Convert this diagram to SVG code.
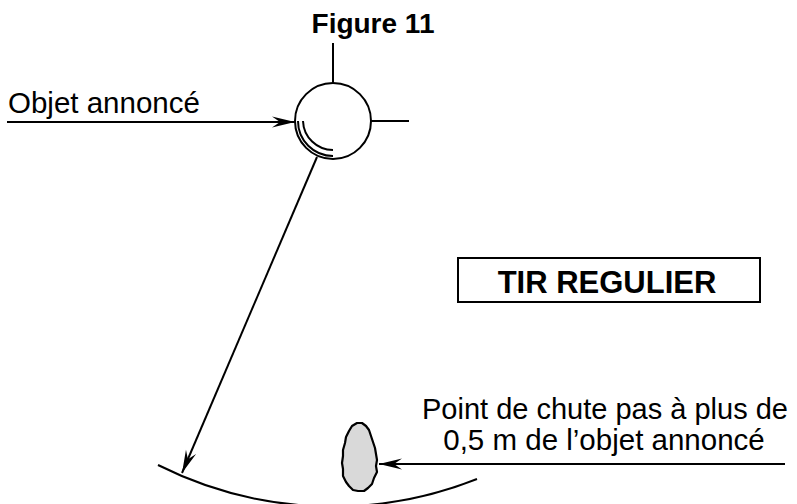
<svg xmlns="http://www.w3.org/2000/svg" width="797" height="504" viewBox="0 0 797 504">
  <style>
    .ln { fill: none; stroke: #000; stroke-width: 2; }
    .t { font-family: "Liberation Sans", Arial, sans-serif; fill: #000; }
    .b { font-weight: bold; }
  </style>
  <defs>
    <marker id="ah" markerUnits="userSpaceOnUse" markerWidth="30" markerHeight="16" viewBox="-24 -8 26 16" refX="0" refY="0" orient="auto">
      <path d="M0,0 L-23,-5.5 L-15,0 L-23,5.5 Z" fill="#000"/>
    </marker>
  </defs>
  <rect width="797" height="504" fill="#fff"/>

  <text class="t b" x="373" y="33" font-size="28" text-anchor="middle">Figure 11</text>

  <g id="objet">
    <circle cx="333" cy="121" r="38" class="ln"/>
    <line x1="333" y1="43" x2="333" y2="83" class="ln"/>
    <line x1="371" y1="121" x2="409" y2="121" class="ln"/>
    <path d="M298,121 A35,35 0 0 0 333,156" class="ln" stroke-width="1.5"/>
    <path d="M303,121 A30,30 0 0 0 333,150" class="ln" stroke-width="1.5"/>
  </g>

  <g id="label-objet">
    <text class="t" x="8" y="113" font-size="29.5">Objet annoncé</text>
  </g>

  <g id="tir">
    <rect x="458" y="258" width="302" height="44" class="ln"/>
    <text class="t b" x="607" y="293" font-size="31" text-anchor="middle">TIR REGULIER</text>
  </g>

  <g id="sol">
    <path d="M158,465 A390,390 0 0 0 477,479" class="ln" stroke-width="2.5"/>
  </g>

  <g id="point-chute">
    <path d="M357,423 L362,423 L366,426 L369,430 L371,436 L373,442 L375,448 L376,454 L377,460 L376,466 L377,472 L374,478 L372,484 L368,488 L364,491 L358,491 L353,490 L349,486 L346,482 L343,476 L343,469 L342,463 L343,456 L343,450 L345,443 L346,437 L349,431 L352,426 Z" fill="#d9d9d9" stroke="#000" stroke-width="2.2" stroke-linejoin="round"/>
  </g>

  <g id="label-chute">
    <text class="t" x="605" y="419" font-size="29" text-anchor="middle">Point de chute pas à plus de</text>
    <text class="t" x="604" y="450" font-size="29.5" text-anchor="middle">0,5 m de l’objet annoncé</text>
  </g>

  <g id="connectors">
    <line x1="7" y1="122" x2="295" y2="122" class="ln" marker-end="url(#ah)"/>
    <line x1="317" y1="157" x2="182" y2="473" class="ln" marker-end="url(#ah)"/>
    <line x1="785" y1="464" x2="379" y2="464" class="ln" marker-end="url(#ah)"/>
  </g>
</svg>
